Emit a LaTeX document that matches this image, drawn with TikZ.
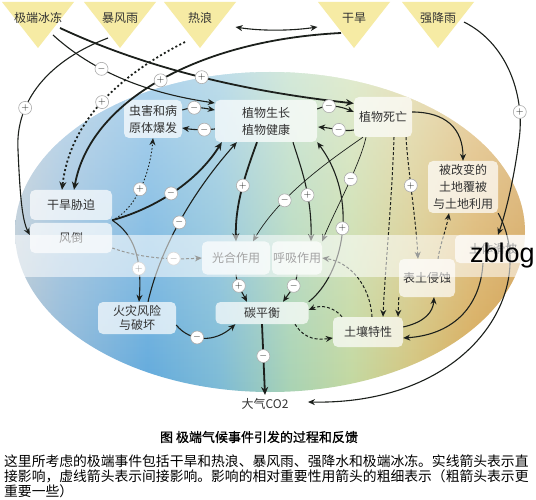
\documentclass[tikz,border=0pt]{standalone}
\usepackage{fontspec}
\setmainfont{Noto Sans CJK SC}
\newfontfamily\wmfont{Liberation Sans}
\newfontfamily\titlefont[FakeBold=1]{Noto Sans CJK SC}
\usetikzlibrary{arrows.meta,fadings}

\definecolor{evtyellow}{HTML}{F6EBA4}
\definecolor{inkdark}{HTML}{1C201C}
\definecolor{txtgray}{HTML}{333333}
\definecolor{bA}{HTML}{AFC2D0}
\definecolor{bB}{HTML}{8FB8D8}
\definecolor{bC}{HTML}{62AADC}
\definecolor{bD}{HTML}{7DBBD6}
\definecolor{bE}{HTML}{A9D3B4}
\definecolor{bF}{HTML}{C3D8A0}
\definecolor{bG}{HTML}{D3C57E}
\definecolor{bH}{HTML}{D6AA58}
\definecolor{bI}{HTML}{CF9A46}

\pgfdeclarehorizontalshading{biome}{100bp}{color(0bp)=(bA); color(25bp)=(bA); color(29.5bp)=(bB); color(38bp)=(bC); color(45bp)=(bD); color(52bp)=(bE); color(58bp)=(bF); color(64bp)=(bG); color(70bp)=(bH); color(75bp)=(bI); color(100bp)=(bI)}
\tikzfading[name=topglow, top color=transparent!50, middle color=transparent!100, bottom color=transparent!100]

\tikzset{
  evt/.style={font=\fontsize{12}{14}\selectfont, text=txtgray},
  box/.style={rounded corners=5pt, fill=white, fill opacity=0.7, text opacity=1, text=txtgray,
    align=center, inner sep=1pt, font=\fontsize{12}{17}\selectfont},
  sgn/.style={circle, solid, draw=gray!65, line width=0.6pt, fill=white, text=inkdark,
    inner sep=0pt, minimum size=13pt, font=\fontsize{10}{10}\selectfont},
  fx/.style={draw=inkdark, line width=1.1pt, -{Stealth[length=7pt,width=6pt]}},
  fxthick/.style={fx, line width=1.8pt, -{Stealth[length=8pt,width=7pt]}},
  fxthin/.style={fx, line width=0.7pt},
  ind/.style={fx, line width=1pt, dash pattern=on 3pt off 2pt},
  capt/.style={font=\fontsize{13.8}{14}\selectfont, text=black, inner sep=0pt, anchor=west},
}

\begin{document}
\begin{tikzpicture}[x=1pt,y=-1pt]
\useasboundingbox (0,0) rectangle (536,500);
\fill[white] (0,0) rectangle (536,500);

% backdrop
\shade[shading=biome] (270,232) ellipse [x radius=255, y radius=160];
\fill[white, path fading=topglow] (270,232) ellipse [x radius=255, y radius=160];

% extreme events
\foreach \x/\nm/\txt in {38/frost/极端冰冻,120/storm/暴风雨,200/heat/热浪,354/drought/干旱,438/rain/强降雨}{
  \fill[evtyellow] (\x-36,2) -- (\x+36,2) -- (\x,48) -- cycle;
  \node[evt] (\nm) at (\x,18) {\txt};
}

% processes
\node[box, minimum width=82, minimum height=30] (stress) at (71,205) {干旱胁迫};
\node[box, minimum width=82, minimum height=30] (wind) at (71,238) {风倒};
\node[box, minimum width=58, minimum height=38] (insects) at (153,119) {虫害和病\\原体爆发};
\node[box, minimum width=102, minimum height=42] (growth) at (266,121) {植物生长\\植物健康};
\node[box, minimum width=58, minimum height=40] (mort) at (383,117) {植物死亡};
\node[box, minimum width=70, minimum height=52] (landuse) at (463,187) {被改变的\\土地覆被\\与土地利用};
\node[box, minimum width=76, minimum height=28] (slide) at (493,249) {土体滑坡};
\node[box, minimum width=68, minimum height=33] (photo) at (236,258) {光合作用};
\node[box, minimum width=50, minimum height=33] (resp) at (297,258) {呼吸作用};
\node[box, minimum width=56, minimum height=38] (erosion) at (427,278) {表土侵蚀};
\node[box, minimum width=78, minimum height=32, font=\fontsize{12}{14}\selectfont] (fire) at (137,318) {火灾风险\\与破坏};
\node[box, minimum width=93, minimum height=22] (carbon) at (262,313) {碳平衡};
\node[box, minimum width=70, minimum height=30] (soil) at (368,332) {土壤特性};
\node[font=\fontsize{12}{14}\selectfont, text=txtgray] (co2) at (265,404) {大气CO2};

% direct impacts
\draw[fx] ([shift={(15,17)}]frost.center) .. controls (100,78) and (160,95) .. ([shift={(0,-18)}]growth.west) node[sgn,pos=0.32]{$-$};
\draw[fxthick] ([shift={(22,10)}]frost.center) .. controls (150,70) and (250,92) .. (mort.155) node[sgn,pos=0.5]{$+$};
\draw[fx] ([shift={(-12,20)}]storm.center) .. controls (50,60) and (15,100) .. (18,150) node[sgn,pos=0.7]{$+$}
  .. controls (20,195) and (22,220) .. ([shift={(0,-3)}]wind.west);
\draw[fx, {Stealth[length=7pt,width=6pt]}-{Stealth[length=7pt,width=6pt]}] ([shift={(20,9)}]heat.east) .. controls (260,31) and (290,31) .. ([shift={(-21,9)}]drought.west);
\draw[fxthick] ([shift={(-13,15)}]drought.center) .. controls (200,40) and (90,100) .. ([shift={(3,0)}]stress.north) node[sgn,pos=0.5]{$+$};
\draw[fxthick, dash pattern=on 2pt off 2.4pt] ([shift={(-15,24)}]heat.center) .. controls (120,75) and (70,120) .. ([shift={(-9,0)}]stress.north) node[sgn,pos=0.5]{$+$};
\draw[fx] ([shift={(26,4)}]rain.center) .. controls (510,45) and (525,100) .. (519,140) node[sgn,pos=0.78]{$+$}
  .. controls (514,180) and (505,215) .. ([shift={(5,0)}]slide.north);

% plants
\draw[fx] ([shift={(0,-12)}]growth.east) .. controls (328,104) and (340,106) .. ([shift={(0,-5)}]mort.west) node[sgn,pos=0.35]{$-$};
\draw[fx] ([shift={(0,13)}]mort.west) .. controls (343,132) and (332,128) .. ([shift={(1,6)}]growth.east) node[sgn,pos=0.45]{$-$};
\draw[fx] ([shift={(0,-9)}]insects.east) .. controls (195,106) and (203,108) .. ([shift={(0,-11)}]growth.west) node[sgn,pos=0.35]{$-$};
\draw[fx] ([shift={(0,8)}]growth.west) .. controls (205,130) and (195,130) .. ([shift={(0,9)}]insects.east) node[sgn,pos=0.35]{$-$};
\draw[fx] ([shift={(0,-5)}]mort.east) .. controls (445,112) and (463,128) .. (landuse.north);
\draw[fxthick] ([shift={(-9,0)}]growth.south) .. controls (245,175) and (235,205) .. (photo.north) node[sgn,pos=0.45]{$+$};
\draw[fxthin] ([shift={(-20,0)}]mort.south) .. controls (330,160) and (280,195) .. ([shift={(17,0)}]photo.north) node[sgn,pos=0.68]{$-$};
\draw[fx] ([shift={(27,0)}]growth.south) .. controls (300,165) and (312,195) .. ([shift={(14,0)}]resp.north) node[sgn,pos=0.62]{$+$};
\draw[fxthin] ([shift={(-17,0)}]mort.south) .. controls (360,165) and (335,210) .. (resp.north east) node[sgn,pos=0.42]{$-$};

% stress, fire
\draw[fx, line width=0.9pt, dash pattern=on 1.5pt off 2pt] (stress.south east) .. controls (135,210) and (150,175) .. (insects.south) node[sgn,pos=0.5]{$+$};
\draw[fxthick] (stress.south east) .. controls (150,210) and (195,185) .. ([shift={(7,0)}]growth.south west) node[sgn,pos=0.5]{$-$};
\draw[fx] (stress.south east) .. controls (135,235) and (142,260) .. ([shift={(2,0)}]fire.north) node[sgn,pos=0.7]{$+$};
\draw[fx] ([shift={(11,0)}]fire.north) .. controls (160,250) and (190,195) .. ([shift={(22,0)}]growth.south west) node[sgn,pos=0.5]{$-$};
\draw[ind] ([shift={(0,10)}]wind.east) .. controls (140,258) and (170,260) .. (photo.west) node[sgn,pos=0.7]{$-$};

% carbon
\draw[fx] (photo.south) .. controls (237,285) and (242,292) .. ([shift={(-15,0)}]carbon.north) node[sgn,pos=0.4]{$+$};
\draw[fx] (resp.south) .. controls (296,285) and (290,292) .. ([shift={(21,0)}]carbon.north) node[sgn,pos=0.4]{$-$};
\draw[fx] ([shift={(0,7)}]fire.east) .. controls (190,342) and (215,343) .. ([shift={(20,0)}]carbon.south west) node[sgn,pos=0.4]{$-$};
\draw[fxthick] (carbon.south) -- (co2.north) node[sgn,pos=0.45]{$-$};
\draw[fx] (carbon.north east) .. controls (343,275) and (360,200) .. (growth.south east) node[sgn,pos=0.53]{$+$};

% soil
\draw[ind] ([shift={(23,0)}]mort.south) .. controls (408,170) and (416,220) .. ([shift={(-9,0)}]erosion.north) node[sgn,pos=0.42]{$+$};
\draw[ind] ([shift={(11,0)}]mort.south) .. controls (392,200) and (385,270) .. ([shift={(15,0)}]soil.north);
\draw[ind] (erosion.south west) -- ([shift={(30,0)}]soil.north);
\draw[ind] ([shift={(11,0)}]erosion.north) .. controls (440,245) and (446,230) .. ([shift={(-14,0)}]landuse.south);
\draw[ind] ([shift={(4,0)}]soil.north) .. controls (370,285) and (350,262) .. (resp.east);
\draw[ind] ([shift={(33,0)}]carbon.south) .. controls (305,340) and (318,340) .. ([shift={(0,6)}]soil.west);
\draw[ind] ([shift={(-26,0)}]soil.north) .. controls (335,308) and (322,304) .. ([shift={(0,-3)}]carbon.east);
\draw[fx] ([shift={(0,-5)}]soil.east) .. controls (425,322) and (433,312) .. ([shift={(7,0)}]erosion.south);
\draw[fx] ([shift={(-10,0)}]slide.south) .. controls (480,310) and (450,335) .. ([shift={(0,6)}]soil.east);
\draw[fx] (landuse.south east) .. controls (540,290) and (470,405) .. ([shift={(16,-2)}]co2.east);

% overlay band and mark
\fill[white, opacity=0.55] (0,235) rectangle (536,277);
\node[font=\wmfont\fontsize{27}{27}\selectfont, anchor=base west, inner sep=0pt] (mark) at (470,262) {zblog};

% caption
\node[font=\titlefont\fontsize{13}{13}\selectfont, text=black] (title) at (259,437) {图 极端气候事件引发的过程和反馈};
\node[capt] (cap1) at (4,461) {这里所考虑的极端事件包括干旱和热浪、暴风雨、强降水和极端冰冻。实线箭头表示直};
\node[capt] (cap2) at (4,476) {接影响，虚线箭头表示间接影响。影响的相对重要性用箭头的粗细表示（粗箭头表示更};
\node[capt] (cap3) at (4,491) {重要一些）};
\end{tikzpicture}
\end{document}
